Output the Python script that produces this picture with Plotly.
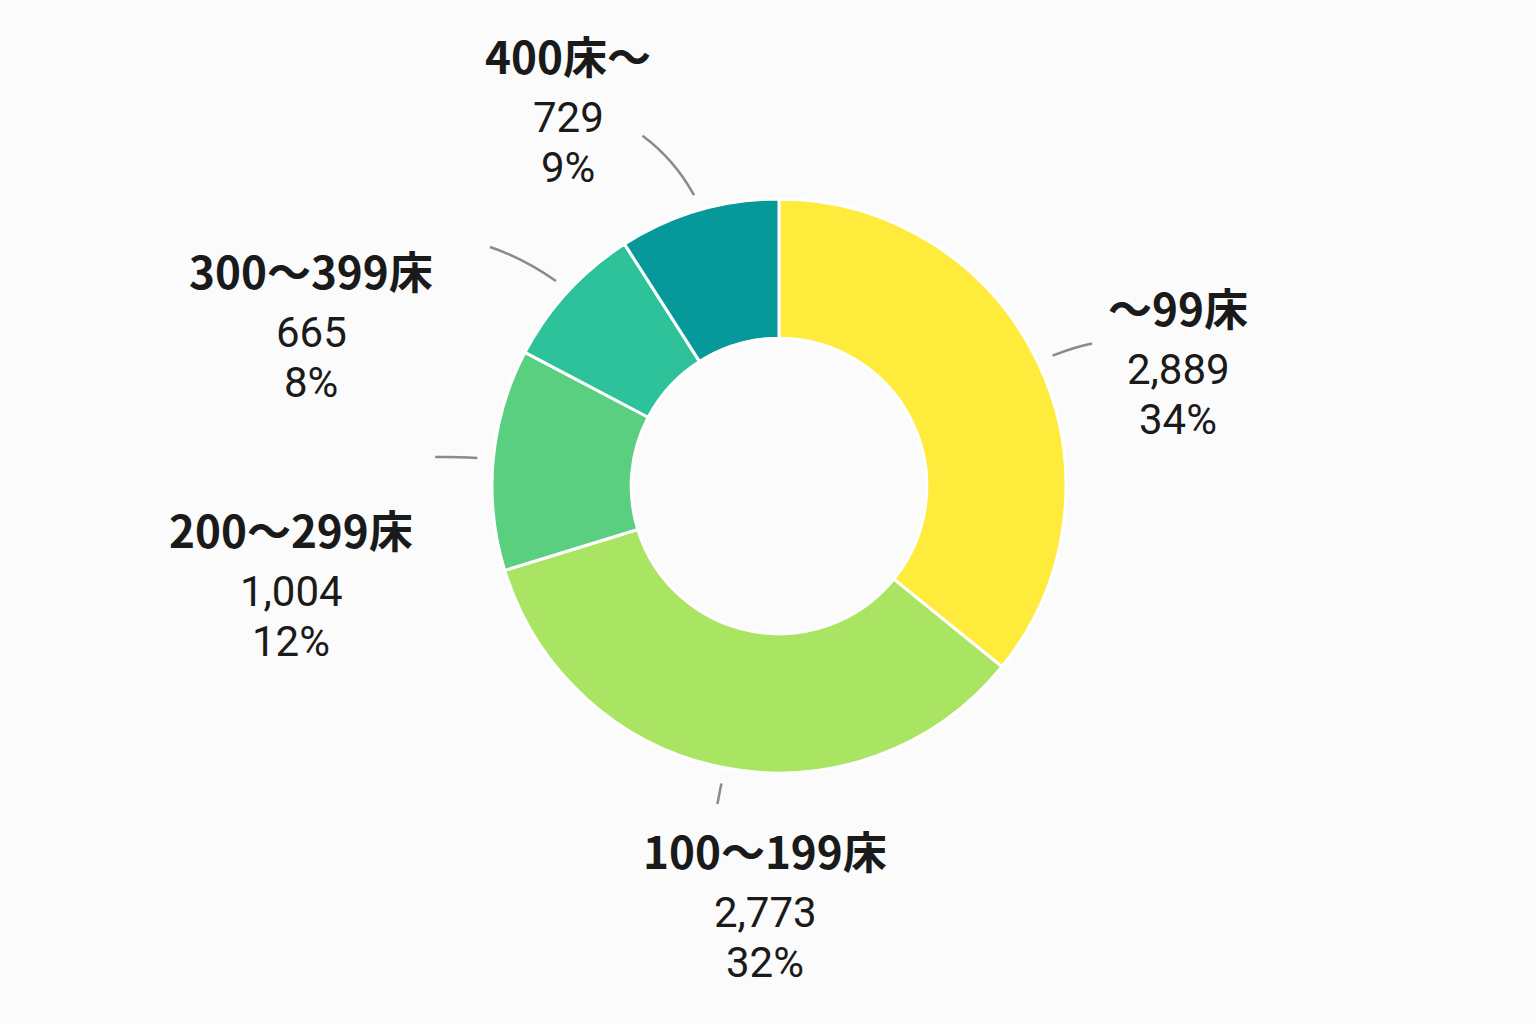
import math
import plotly.graph_objects as go

# ---- data ----
CATEGORIES = ["～99床", "100～199床", "200～299床", "300～399床", "400床～"]
VALUES = [2889, 2773, 1004, 665, 729]
VALUE_LABELS = ["2,889", "2,773", "1,004", "665", "729"]
PCT_LABELS = ["34%", "32%", "12%", "8%", "9%"]
COLORS = ["#FFEB3B", "#A9E462", "#5BCF80", "#2EC29A", "#07999A"]

# ---- layout / style ----
W, H = 1536, 1024
CX, CY, R = 779, 486, 287          # donut centre & radius in pixels
HOLE = 0.515
# label block centre (x, y of bold title line), pixels
LABEL_POS = [(1178, 307), (765, 850), (291, 529), (311, 270), (568, 55)]
# leader: end radius and angular offset (deg) relative to slice mid-angle
LEADER_END = [(344, 1.0), (324, 0.0), (345, -0.5), (375, -3.0), (376, -5.0)]
LEADER_START_R = 303

TITLE_FONT = "Noto Sans CJK JP"
NUM_FONT = "Roboto"


def px_to_paper(x, y):
    return x / W, 1 - y / H


fig = go.Figure(
    go.Pie(
        labels=CATEGORIES,
        values=VALUES,
        hole=HOLE,
        sort=False,
        direction="clockwise",
        rotation=0,
        marker=dict(colors=COLORS, line=dict(color="white", width=3)),
        textinfo="none",
        hoverinfo="label+value",
        showlegend=False,
        domain=dict(
            x=[(CX - R) / W, (CX + R) / W],
            y=[1 - (CY + R) / H, 1 - (CY - R) / H],
        ),
    )
)

total = sum(VALUES)
annotations = []
shapes = []
cum = 0
for i, v in enumerate(VALUES):
    mid = (cum + v / 2) / total * 360
    cum += v
    # leader line
    r1, off = LEADER_END[i]
    a0 = math.radians(mid)
    a1 = math.radians(mid + off)
    am = math.radians(mid + off * 0.3)
    rm = (LEADER_START_R + r1) / 2 + 4
    sx, sy = CX + LEADER_START_R * math.sin(a0), CY - LEADER_START_R * math.cos(a0)
    ex, ey = CX + r1 * math.sin(a1), CY - r1 * math.cos(a1)
    qx, qy = CX + rm * math.sin(am), CY - rm * math.cos(am)
    p = [px_to_paper(*pt) for pt in [(sx, sy), (qx, qy), (ex, ey)]]
    shapes.append(dict(
        type="path", xref="paper", yref="paper",
        path=f"M {p[0][0]},{p[0][1]} Q {p[1][0]},{p[1][1]} {p[2][0]},{p[2][1]}",
        line=dict(color="#8a8a8a", width=2.5),
    ))
    # labels
    lx, ly = LABEL_POS[i]
    for text, dy, size, fam in [
        (f"<b>{CATEGORIES[i]}</b>", 0, 44, TITLE_FONT),
        (VALUE_LABELS[i], 62, 42, NUM_FONT),
        (PCT_LABELS[i], 112, 42, NUM_FONT),
    ]:
        x, y = px_to_paper(lx, ly + dy)
        annotations.append(dict(
            x=x, y=y, xref="paper", yref="paper", text=text,
            showarrow=False, xanchor="center", yanchor="middle",
            font=dict(family=fam, size=size, color="#1a1a1a"),
        ))

fig.update_layout(
    width=W, height=H,
    margin=dict(l=0, r=0, t=0, b=0),
    paper_bgcolor="#fbfbfb",
    plot_bgcolor="#fbfbfb",
    annotations=annotations,
    shapes=shapes,
)

fig.write_html("out.html")
